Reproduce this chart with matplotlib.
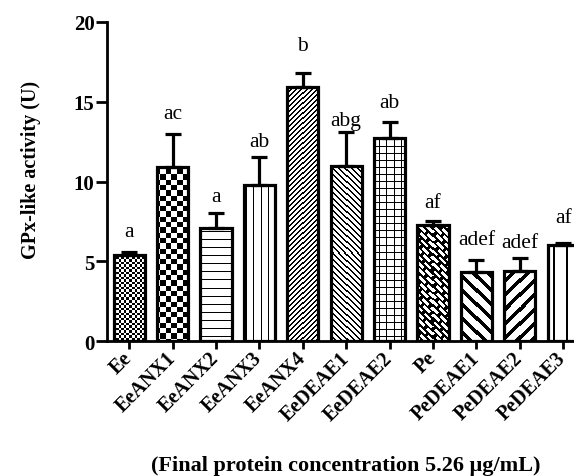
import numpy as np
import matplotlib
matplotlib.use("Agg")
import matplotlib.pyplot as plt

categories = ["Ee", "EeANX1", "EeANX2", "EeANX3", "EeANX4", "EeDEAE1",
              "EeDEAE2", "Pe", "PeDEAE1", "PeDEAE2", "PeDEAE3"]
values = [5.4, 10.9, 7.1, 9.75, 15.9, 11.0, 12.75, 7.25, 4.3, 4.4, 6.0]
errors = [0.15, 2.1, 0.95, 1.8, 0.9, 2.1, 1.0, 0.25, 0.8, 0.8, 0.15]
letters = ["a", "ac", "a", "ab", "b", "abg", "ab", "af", "adef", "adef", "af"]
letter_y = [6.56, 14.0, 8.8, 12.25, 18.25, 13.56, 14.7, 8.4, 6.06, 5.9, 7.45]
yticks = [0, 5, 10, 15, 20]

# texture specs: (kind, period_px, thickness_px)
patterns = [("checker", 2.5, 0), ("checker", 5.3, 0), ("hlines", 8, 1),
            ("vlines", 7, 1), ("diag_up", 5, 1.4), ("diag_down", 6, 1.4),
            ("grid", 7, 1), ("brick", 6, 0), ("diag_down", 14, 3.5),
            ("diag_up", 14, 3.5), ("vlines", 12, 2)]

serif = ["Liberation Serif", "DejaVu Serif"]
plt.rcParams["font.family"] = serif

W, H = 574, 477
fig = plt.figure(figsize=(W / 100, H / 100), dpi=100)
ax = fig.add_axes([107 / W, 135 / H, 11 * 43.4 / W, 319 / H])
xlim = (-0.51, 10.49)
ax.set_xlim(*xlim)
ax.set_ylim(0, 20)

x = np.arange(len(categories))
bw = 0.72


def texture(kind, p, t, nx, ny, ox, oy):
    X, R = np.meshgrid(np.arange(nx) + ox, np.arange(ny) + oy)
    if kind == "checker":
        return ((np.floor(X / p) + np.floor(R / p)) % 2).astype(float)
    if kind == "hlines":
        return (R % p < t).astype(float)
    if kind == "vlines":
        return (X % p < t).astype(float)
    if kind == "grid":
        return ((X % p < t) | (R % p < t)).astype(float)
    if kind == "diag_up":
        return ((X + R) % p < t * 1.414).astype(float)
    if kind == "diag_down":
        return ((X - R) % p < t * 1.414).astype(float)
    if kind == "brick":
        u = (X + R) / 1.414
        v = (X - R) / 1.414
        row = np.floor(v / (p * 0.75))
        white = ((v % (p * 0.75)) < p * 0.45) & (((u + row * p) % (2 * p)) < p * 1.5)
        return (~white).astype(float)
    return np.zeros((ny, nx))


bars = ax.bar(x, values, width=bw, color="white", edgecolor="none", zorder=1)
fig.canvas.draw()
for b, (kind, p, t) in zip(bars, patterns):
    x0, y0 = b.get_x(), 0
    x1, y1 = b.get_x() + b.get_width(), b.get_height()
    (px0, py0), (px1, py1) = ax.transData.transform([(x0, y0), (x1, y1)])
    nx = max(1, int(round(px1 - px0)))
    ny = max(1, int(round(py1 - py0)))
    img = texture(kind, p, t, nx, ny, int(px0), int(H - py1))
    im = ax.imshow(img, extent=(x0, x1, y0, y1), origin="upper", cmap="gray_r",
                   vmin=0, vmax=1, interpolation="nearest", aspect="auto", zorder=1.5)
    im.set_clip_path(b)

ax.bar(x, values, width=bw, facecolor="none", edgecolor="black", linewidth=2.3, zorder=2)
ax.errorbar(x, values, yerr=[np.zeros(len(errors)), errors], fmt="none",
            ecolor="black", elinewidth=2.3, capsize=6, capthick=2.3, zorder=3)

ax.set_xlim(*xlim)
ax.set_ylim(0, 20)

for xi, lab, ly in zip(x, letters, letter_y):
    ax.text(xi, ly, lab, ha="center", va="baseline", fontsize=15.5, family=serif)

for s in ["top", "right"]:
    ax.spines[s].set_visible(False)
for s in ["left", "bottom"]:
    ax.spines[s].set_linewidth(2)

ax.set_yticks(yticks)
ax.set_yticklabels([str(v) for v in yticks], fontsize=15, fontweight="bold")
ax.set_xticks(x)
ax.set_xticklabels(categories, rotation=45, ha="right", va="center",
                   rotation_mode="anchor", fontsize=14.5, fontweight="bold")
ax.tick_params(axis="both", direction="out", width=2)
ax.tick_params(axis="x", pad=4, length=6)
ax.tick_params(axis="y", pad=1, length=8)

fig.text(31 / W, 1 - 170 / H, "GPx-like activity (U)", rotation=90,
         ha="center", va="center", fontsize=14.5, fontweight="bold")
fig.text(346 / W, 1 - 471 / H, "(Final protein concentration 5.26 \u03bcg/mL)",
         ha="center", va="baseline", fontsize=16, fontweight="bold")

fig.savefig("out.png", dpi=100)
